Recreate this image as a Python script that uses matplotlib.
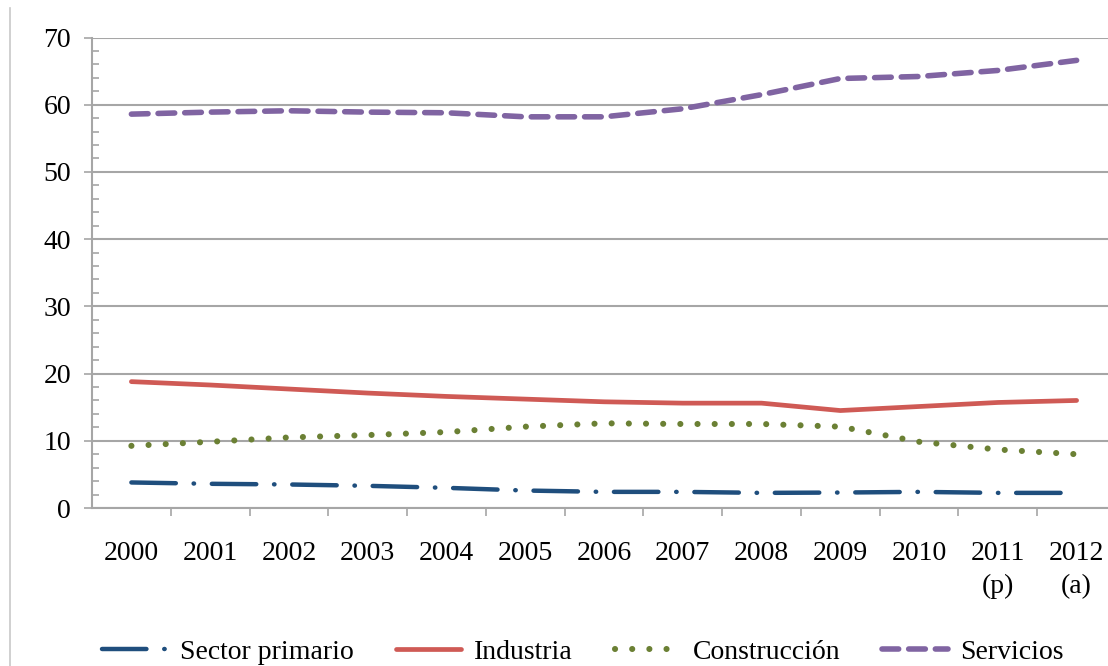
import matplotlib.pyplot as plt
from matplotlib.lines import Line2D

# data (% of total)
years = ["2000", "2001", "2002", "2003", "2004", "2005", "2006",
         "2007", "2008", "2009", "2010", "2011\n(p)", "2012\n(a)"]
sector_primario = [3.8, 3.6, 3.5, 3.3, 3.0, 2.6, 2.4, 2.4, 2.25, 2.3, 2.4, 2.25, 2.25]
industria = [18.8, 18.3, 17.7, 17.1, 16.6, 16.2, 15.8, 15.6, 15.6, 14.5, 15.1, 15.7, 16.0]
construccion = [9.25, 9.85, 10.5, 10.85, 11.3, 12.1, 12.6, 12.5, 12.5, 12.1, 9.85, 8.7, 8.0]
servicios = [58.6, 58.9, 59.1, 58.9, 58.8, 58.2, 58.2, 59.4, 61.5, 63.9, 64.2, 65.1, 66.6]

plt.rcParams["font.family"] = ["Liberation Serif", "DejaVu Serif"]
grid_col = "#a6a6a6"
fs = 20

fig = plt.figure(figsize=(11.08, 6.66), dpi=100)
ax = fig.add_axes([92 / 1108, 1 - 508 / 666, 1024 / 1108, 470.5 / 666])

x = list(range(len(years)))
ax.plot(x, sector_primario, color="#1f4e7d", lw=3.2, linestyle=(0, (10, 4, 0.1, 4)),
        dash_capstyle="round", solid_capstyle="round", label="Sector primario")
ax.plot(x, industria, color="#cf5a55", lw=3.4, solid_capstyle="round", label="Industria")
ax.plot(x, construccion, color="#6b8034", lw=4.4, linestyle=(0, (0.01, 2.8)),
        dash_capstyle="round", label="Construcción")
ax.plot(x, servicios, color="#8064a2", lw=4.0, linestyle=(0, (3.0, 1.8)),
        dash_capstyle="round", label="Servicios")

ax.set_xlim(-0.5, 12.5)
ax.set_ylim(0, 70)
ax.set_yticks(range(0, 71, 10))
ax.set_yticks(range(0, 71, 2), minor=True)
ax.set_xticks([i - 0.5 for i in range(1, 13)])
ax.set_xticklabels([])
ax.set_xticks(x, minor=True)
ax.set_xticklabels(years, minor=True, fontsize=fs, linespacing=1.4, va="top")

ax.grid(axis="y", which="major", color=grid_col, lw=1.5)
ax.set_axisbelow(True)
for s in ["top", "right"]:
    ax.spines[s].set_visible(False)
for s in ["left", "bottom"]:
    ax.spines[s].set_color(grid_col)
    ax.spines[s].set_linewidth(1.5)

ax.tick_params(axis="y", which="major", direction="out", length=6, width=1.2,
               color=grid_col, labelsize=fs, pad=9)
ax.tick_params(axis="y", which="minor", direction="in", length=5, width=1.2, color=grid_col)
ax.tick_params(axis="x", which="major", direction="out", length=6, width=1.2, color=grid_col)
ax.tick_params(axis="x", which="minor", length=0, pad=24)

# thin frame line on the left edge of the picture
fig.add_artist(Line2D([10 / 1108, 10 / 1108], [0, 1 - 8 / 666], color="#c8c8c8", lw=1.2))

fig.legend(loc="center", bbox_to_anchor=(0.526, 1 - 652 / 666), ncol=4, frameon=False,
           fontsize=fs, handlelength=2.35, handletextpad=0.45, columnspacing=1.52)

plt.savefig("out.png", dpi=100)
